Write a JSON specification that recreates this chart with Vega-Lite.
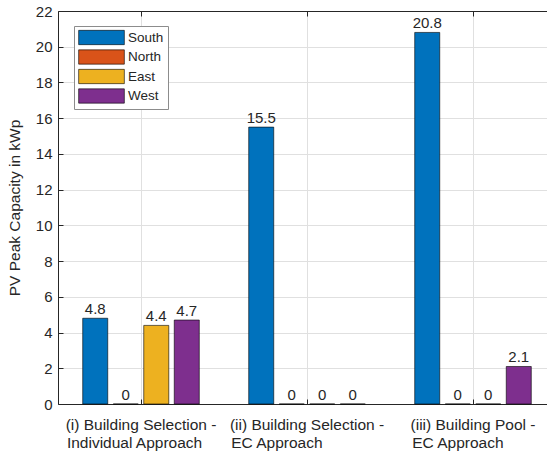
{
  "$schema": "https://vega.github.io/schema/vega-lite/v6.json",
  "width": 489,
  "height": 393,
  "autosize": {"type": "none"},
  "padding": {"left": 58, "top": 11, "right": 0, "bottom": 48},
  "background": "white",
  "config": {
    "view": {"stroke": null},
    "font": "Liberation Sans",
    "axis": {"labelFont": "Liberation Sans", "titleFont": "Liberation Sans"},
    "axisY": {
      "values": [0, 2, 4, 6, 8, 10, 12, 14, 16, 18, 20, 22],
      "grid": true, "gridColor": "#e0e0e0",
      "tickSize": -5, "labelPadding": 11,
      "labelFontSize": 15, "labelColor": "#262626",
      "titleFontSize": 15.5, "titleFontWeight": "normal", "titleColor": "#262626",
      "titlePadding": 13, "labelOverlap": false,
      "domainColor": "#262626", "tickColor": "#262626"
    }
  },
  "data": {
    "values": [
      {"g": "(i) Building Selection -|Individual Approach", "d": "South", "v": 4.8},
      {"g": "(i) Building Selection -|Individual Approach", "d": "North", "v": 0},
      {"g": "(i) Building Selection -|Individual Approach", "d": "East", "v": 4.4},
      {"g": "(i) Building Selection -|Individual Approach", "d": "West", "v": 4.7},
      {"g": "(ii) Building Selection -|EC Approach", "d": "South", "v": 15.5},
      {"g": "(ii) Building Selection -|EC Approach", "d": "North", "v": 0},
      {"g": "(ii) Building Selection -|EC Approach", "d": "East", "v": 0},
      {"g": "(ii) Building Selection -|EC Approach", "d": "West", "v": 0},
      {"g": "(iii) Building Pool -|EC Approach", "d": "South", "v": 20.8},
      {"g": "(iii) Building Pool -|EC Approach", "d": "North", "v": 0},
      {"g": "(iii) Building Pool -|EC Approach", "d": "East", "v": 0},
      {"g": "(iii) Building Pool -|EC Approach", "d": "West", "v": 2.1}
    ]
  },
  "layer": [
    {
      "mark": {"type": "bar", "stroke": "#000000", "strokeWidth": 0.6},
      "encoding": {
        "x": {
          "field": "g", "type": "nominal", "sort": null,
          "scale": {"range": [0, 498], "paddingInner": 0, "paddingOuter": 0},
          "axis": {
            "orient": "bottom", "title": null, "labelAngle": 0,
            "labelExpr": "[split(datum.value,'|')[0], split(datum.value,'|')[1] + (indexof(datum.value,'(ii)')==0 ? '\u00a0\u00a0\u00a0\u00a0\u00a0\u00a0\u00a0\u00a0\u00a0\u00a0\u00a0\u00a0\u00a0\u00a0\u200b' : indexof(datum.value,'(iii)')==0 ? '\u00a0\u00a0\u00a0\u00a0\u00a0\u00a0\u00a0\u200b' : '\u00a0\u00a0\u00a0\u200b')]",
            "labelFontSize": 15.5, "labelColor": "#262626", "labelLineHeight": 18.5,
            "labelPadding": 18, "labelBaseline": "top", "labelLimit": 0,
            "tickSize": -5, "bandPosition": 0.5,
            "grid": true, "gridColor": "#e0e0e0",
            "domainColor": "#262626", "tickColor": "#262626"
          }
        },
        "xOffset": {
          "field": "d", "type": "nominal", "sort": ["South", "North", "East", "West"],
          "scale": {"paddingInner": 0.18, "paddingOuter": 0.81}
        },
        "y": {
          "field": "v", "type": "quantitative",
          "scale": {"domain": [0, 22], "nice": false},
          "axis": {"title": "PV Peak Capacity in kWp", "values": [0, 2, 4, 6, 8, 10, 12, 14, 16, 18, 20, 22]}
        },
        "color": {
          "field": "d", "type": "nominal",
          "scale": {"domain": ["South", "North", "East", "West"], "range": ["#0072BD", "#D95319", "#EDB120", "#7E2F8E"]},
          "legend": {
            "orient": "none", "legendX": 16, "legendY": 15, "title": null, "direction": "vertical",
            "symbolType": "M-3.2,-1H3.2V1H-3.2Z", "symbolSize": 204,
            "symbolStrokeColor": "#000000", "symbolStrokeWidth": 0.6, "symbolOpacity": 1,
            "labelFontSize": 13.5, "labelColor": "#262626", "labelFont": "Liberation Sans",
            "fillColor": "white", "strokeColor": "#8c8c8c",
            "padding": 4, "rowPadding": 2.5, "symbolOffset": 16, "labelOffset": 19
          }
        }
      }
    },
    {
      "mark": {"type": "text", "baseline": "alphabetic", "dy": -4, "fontSize": 15, "color": "#262626", "font": "Liberation Sans"},
      "encoding": {
        "x": {
          "field": "g", "type": "nominal", "sort": null,
          "axis": {"orient": "top", "labels": false, "title": null, "grid": false, "tickSize": -5, "bandPosition": 0.5, "domainColor": "#262626", "tickColor": "#262626"}
        },
        "xOffset": {"field": "d", "type": "nominal", "sort": ["South", "North", "East", "West"]},
        "y": {
          "field": "v", "type": "quantitative",
          "axis": {"title": "PV Peak Capacity in kWp", "values": [0, 2, 4, 6, 8, 10, 12, 14, 16, 18, 20, 22]}
        },
        "text": {"field": "v", "type": "quantitative", "format": ".1~f"}
      }
    }
  ],
  "resolve": {"axis": {"x": "independent"}}
}
